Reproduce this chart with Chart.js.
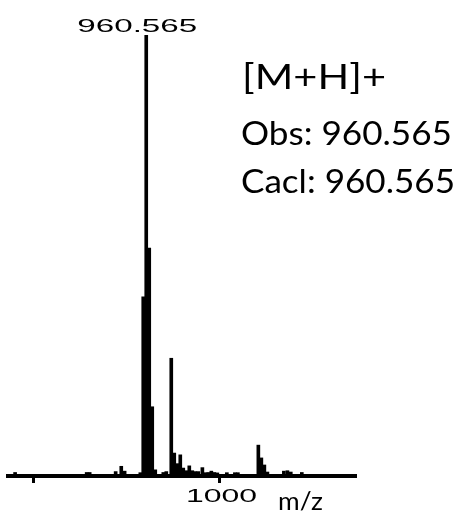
<!DOCTYPE html>
<html>
<head>
<meta charset="utf-8">
<script src="https://cdn.jsdelivr.net/npm/chart.js@4/dist/chart.umd.min.js"></script>
<style>
  html, body { margin: 0; padding: 0; background: #fff; }
  #wrap { width: 460px; height: 513px; }
</style>
</head>
<body>
<div id="wrap"><canvas id="ms" width="460" height="513"></canvas></div>
<script>
// Mass spectrum: m/z bins and relative intensity (% of base peak)
const mzValues = [
  890.4, 928.7, 930.3, 944.2, 947.2, 949.0, 957.4,
  958.96, 960.565, 962.17, 963.78, 965.39,
  969.7, 971.3, 973.96, 975.56, 977.17, 978.78, 980.38, 981.99, 983.6, 985.2,
  986.8, 988.4, 990.6, 992.2, 993.8, 995.4, 997.0, 998.6, 1003.7, 1008.0, 1009.6,
  1020.55, 1022.16, 1023.77, 1025.4, 1034.2, 1036.1, 1037.9, 1043.8
];
const intensities = [
  0.8, 0.8, 0.8, 1.0, 2.2, 1.1, 0.75,
  40.6, 100, 51.7, 15.7, 1.4,
  0.8, 1.0, 26.7, 5.2, 2.8, 4.8, 1.8, 1.2, 2.3, 1.2,
  1.0, 1.0, 1.9, 0.75, 0.8, 1.1, 0.8, 0.7, 0.75, 0.75, 0.75,
  7.0, 4.1, 2.5, 0.9, 1.1, 1.2, 0.9, 0.8
];
const axisTicks = [900, 1000];
const labelledTicks = [1000];
const basePeak = 960.565;
const basePeakLabel = '960.565';
const ionLines = ['[M+H]+', 'Obs: 960.565', 'Cacl: 960.565'];
const axisTitle = 'm/z';

// draw text stretched horizontally to a given width
function drawFit(ctx, text, x, y, font, width, align) {
  ctx.save();
  ctx.font = font;
  ctx.textBaseline = 'alphabetic';
  ctx.textAlign = 'left';
  const w = ctx.measureText(text).width;
  const sx = width / w;
  let left = x;
  if (align === 'center') left = x - width / 2;
  ctx.translate(left, y);
  ctx.scale(sx, 1);
  ctx.fillStyle = '#000';
  ctx.fillText(text, 0, 0);
  ctx.restore();
}

const annotate = {
  id: 'annotate',
  afterDatasetsDraw(chart) {
    const ctx = chart.ctx;
    const xs = chart.scales.x;
    // base peak value above its bar
    drawFit(ctx, basePeakLabel, xs.getPixelForValue(basePeak) - 9, 32,
      "18px 'Liberation Sans'", 120, 'center');
    // tick labels
    labelledTicks.forEach(v => {
      drawFit(ctx, String(v), xs.getPixelForValue(v) + 1.5, 502,
        "18px 'Liberation Sans'", 71, 'center');
    });
    // axis title
    drawFit(ctx, axisTitle, 278, 510, "25px Lato", 45, 'left');
    // ion annotation
    drawFit(ctx, ionLines[0], 242, 89, "34px Lato", 144, 'left');
    drawFit(ctx, ionLines[1], 241, 145, "32px Lato", 211, 'left');
    drawFit(ctx, ionLines[2], 241, 193, "32px Lato", 214, 'left');
  }
};

const bgPlugin = {
  id: 'bg',
  beforeDraw(chart) {
    const c = chart.ctx;
    c.save();
    c.fillStyle = '#fff';
    c.fillRect(0, 0, chart.width, chart.height);
    c.restore();
  }
};

new Chart(document.getElementById('ms'), {
  type: 'bar',
  data: {
    datasets: [{
      data: mzValues.map((m, i) => ({ x: m, y: intensities[i] })),
      backgroundColor: '#000',
      borderWidth: 0,
      barThickness: 3
    }]
  },
  options: {
    responsive: false,
    animation: false,
    devicePixelRatio: 1,
    layout: { padding: { left: 8, right: 104, top: 35, bottom: 0 } },
    plugins: { legend: { display: false }, tooltip: { enabled: false } },
    scales: {
      x: {
        type: 'linear',
        min: 886.6,
        max: 1072.8,
        offset: false,
        afterBuildTicks(scale) {
          scale.ticks = axisTicks.map(v => ({ value: v }));
        },
        afterFit(scale) { scale.height = 37; },
        ticks: { display: false },
        grid: {
          display: true,
          offset: false,
          drawOnChartArea: false,
          drawTicks: true,
          tickLength: 7,
          tickWidth: 3,
          tickColor: '#000'
        },
        border: { display: true, color: '#000', width: 4 }
      },
      y: {
        display: false,
        min: 0,
        max: 100
      }
    }
  },
  plugins: [bgPlugin, annotate]
});
</script>
</body>
</html>
